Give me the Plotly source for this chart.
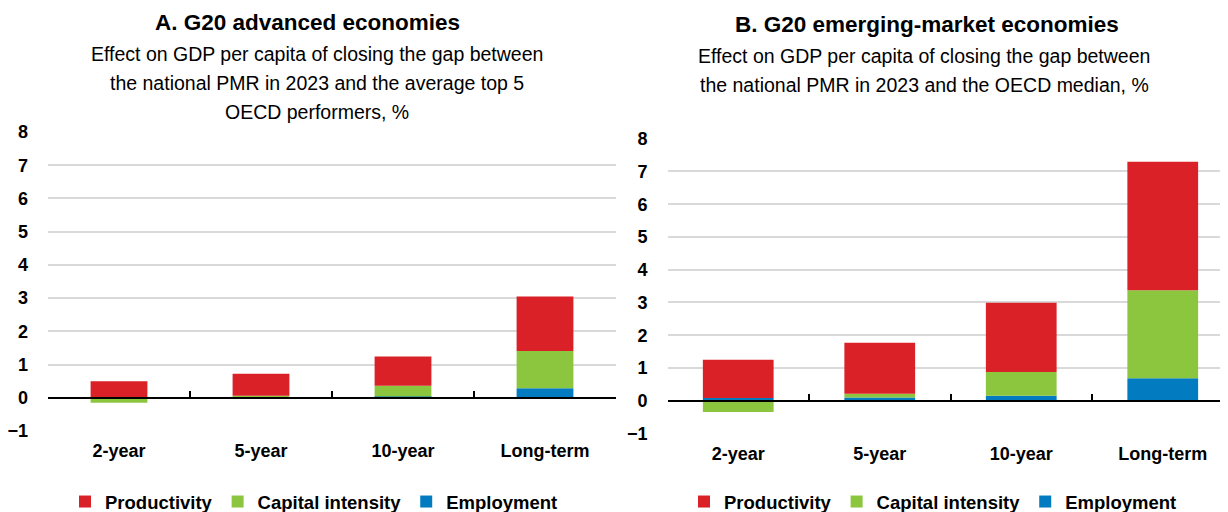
import plotly.graph_objects as go

categories = ["2-year", "5-year", "10-year", "Long-term"]

# Panel A: G20 advanced economies
a_productivity = [0.48, 0.66, 0.88, 1.64]
a_capital = [-0.15, 0.05, 0.32, 1.12]
a_employment = [0.02, 0.01, 0.04, 0.29]

# Panel B: G20 emerging-market economies
b_productivity = [1.17, 1.56, 2.11, 3.93]
b_capital = [-0.34, 0.11, 0.73, 2.68]
b_employment = [0.08, 0.10, 0.15, 0.69]

colors = {"Productivity": "#DA2128", "Capital intensity": "#8CC63F", "Employment": "#037BC1"}

PAGE_W, PAGE_H = 1228, 512
OFF = 8  # default body margin of the html page
W, H = PAGE_W - OFF, PAGE_H - OFF
FONT = "Liberation Sans, Arial, sans-serif"


def py(pix):
    return 1 - (pix - OFF) / H


def px(pix):
    return (pix - OFF) / W


fig = go.Figure()

panels = [
    ("x", "y", "legend", {"Employment": a_employment, "Capital intensity": a_capital, "Productivity": a_productivity}, 0.4),
    ("x2", "y2", "legend2", {"Employment": b_employment, "Capital intensity": b_capital, "Productivity": b_productivity}, 0.5),
]
for xa, ya, leg, data, width in panels:
    for name in ["Employment", "Capital intensity", "Productivity"]:
        fig.add_trace(go.Bar(
            x=categories, y=data[name], name=name, xaxis=xa, yaxis=ya,
            marker=dict(color=colors[name], line=dict(width=0)),
            width=width, legend=leg,
        ))

# geometry (page pixels)
a_top, a_bot = 132, 431      # y=8, y=-1
b_top, b_bot = 138.7, 433.5
a_left, a_right = 48, 616
b_left = 667.5
b_cat = 141.5

ya_dom = [py(a_bot), py(a_top)]
yb_dom = [py(b_bot), py(b_top)]
a_zero = ya_dom[0] + (ya_dom[1] - ya_dom[0]) / 9
b_zero = yb_dom[0] + (yb_dom[1] - yb_dom[0]) / 9

tickfont = dict(family=FONT, size=18, color="#000000", weight="bold")

yax = dict(range=[-1, 8], dtick=1, tick0=0, showgrid=True, gridcolor="#D9D9D9", gridwidth=2,
           zeroline=False, showline=False, ticks="", tickfont=tickfont, ticklabelstandoff=19)
xax = dict(type="category", showline=True, linecolor="#000000", linewidth=2, ticks="inside",
           ticklen=6, tickwidth=1.5, tickcolor="#000000", tickson="boundaries", showgrid=False,
           tickfont=tickfont, ticklabelstandoff=37, anchor="free")

legfont = dict(family=FONT, size=18.5, color="#000000", weight="bold")

fig.update_layout(
    width=W, height=H,
    margin=dict(l=0, r=0, t=0, b=0, autoexpand=False),
    paper_bgcolor="white", plot_bgcolor="white",
    barmode="relative",
    showlegend=True,
    font=dict(family=FONT, color="#000000"),
    xaxis=dict(xax, domain=[px(a_left), px(a_right)], range=[-0.5, 3.5], position=a_zero),
    yaxis=dict(yax, domain=ya_dom, anchor="x"),
    xaxis2=dict(xax, domain=[px(b_left), 1.0], range=[-0.5, -0.5 + (PAGE_W - b_left) / b_cat], position=b_zero),
    yaxis2=dict(yax, domain=yb_dom, anchor="x2"),
    legend=dict(orientation="h", x=px(314), y=py(502), xanchor="center", yanchor="middle",
                traceorder="reversed", font=legfont, itemwidth=30,
                bgcolor="rgba(0,0,0,0)", itemclick=False, itemdoubleclick=False),
    legend2=dict(orientation="h", x=px(933), y=py(502), xanchor="center", yanchor="middle",
                 traceorder="reversed", font=legfont, itemwidth=30,
                 bgcolor="rgba(0,0,0,0)", itemclick=False, itemdoubleclick=False),
)

title_font = dict(family=FONT, size=22.5, color="#000000", weight="bold")
sub_font = dict(family=FONT, size=19.5, color="#000000")
annotations = [
    dict(text="A. G20 advanced economies", x=px(307), y=py(22), font=title_font),
    dict(text="Effect on GDP per capita of closing the gap between", x=px(317), y=py(54), font=sub_font),
    dict(text="the national PMR in 2023 and the average top 5", x=px(317), y=py(83), font=sub_font),
    dict(text="OECD performers, %", x=px(317), y=py(112), font=sub_font),
    dict(text="B. G20 emerging-market economies", x=px(927), y=py(25), font=title_font),
    dict(text="Effect on GDP per capita of closing the gap between", x=px(924), y=py(56), font=sub_font),
    dict(text="the national PMR in 2023 and the OECD median, %", x=px(924), y=py(85), font=sub_font),
]
for a in annotations:
    fig.add_annotation(xref="paper", yref="paper", xanchor="center", yanchor="middle",
                       showarrow=False, align="center", **a)

fig.write_html("out.html")
